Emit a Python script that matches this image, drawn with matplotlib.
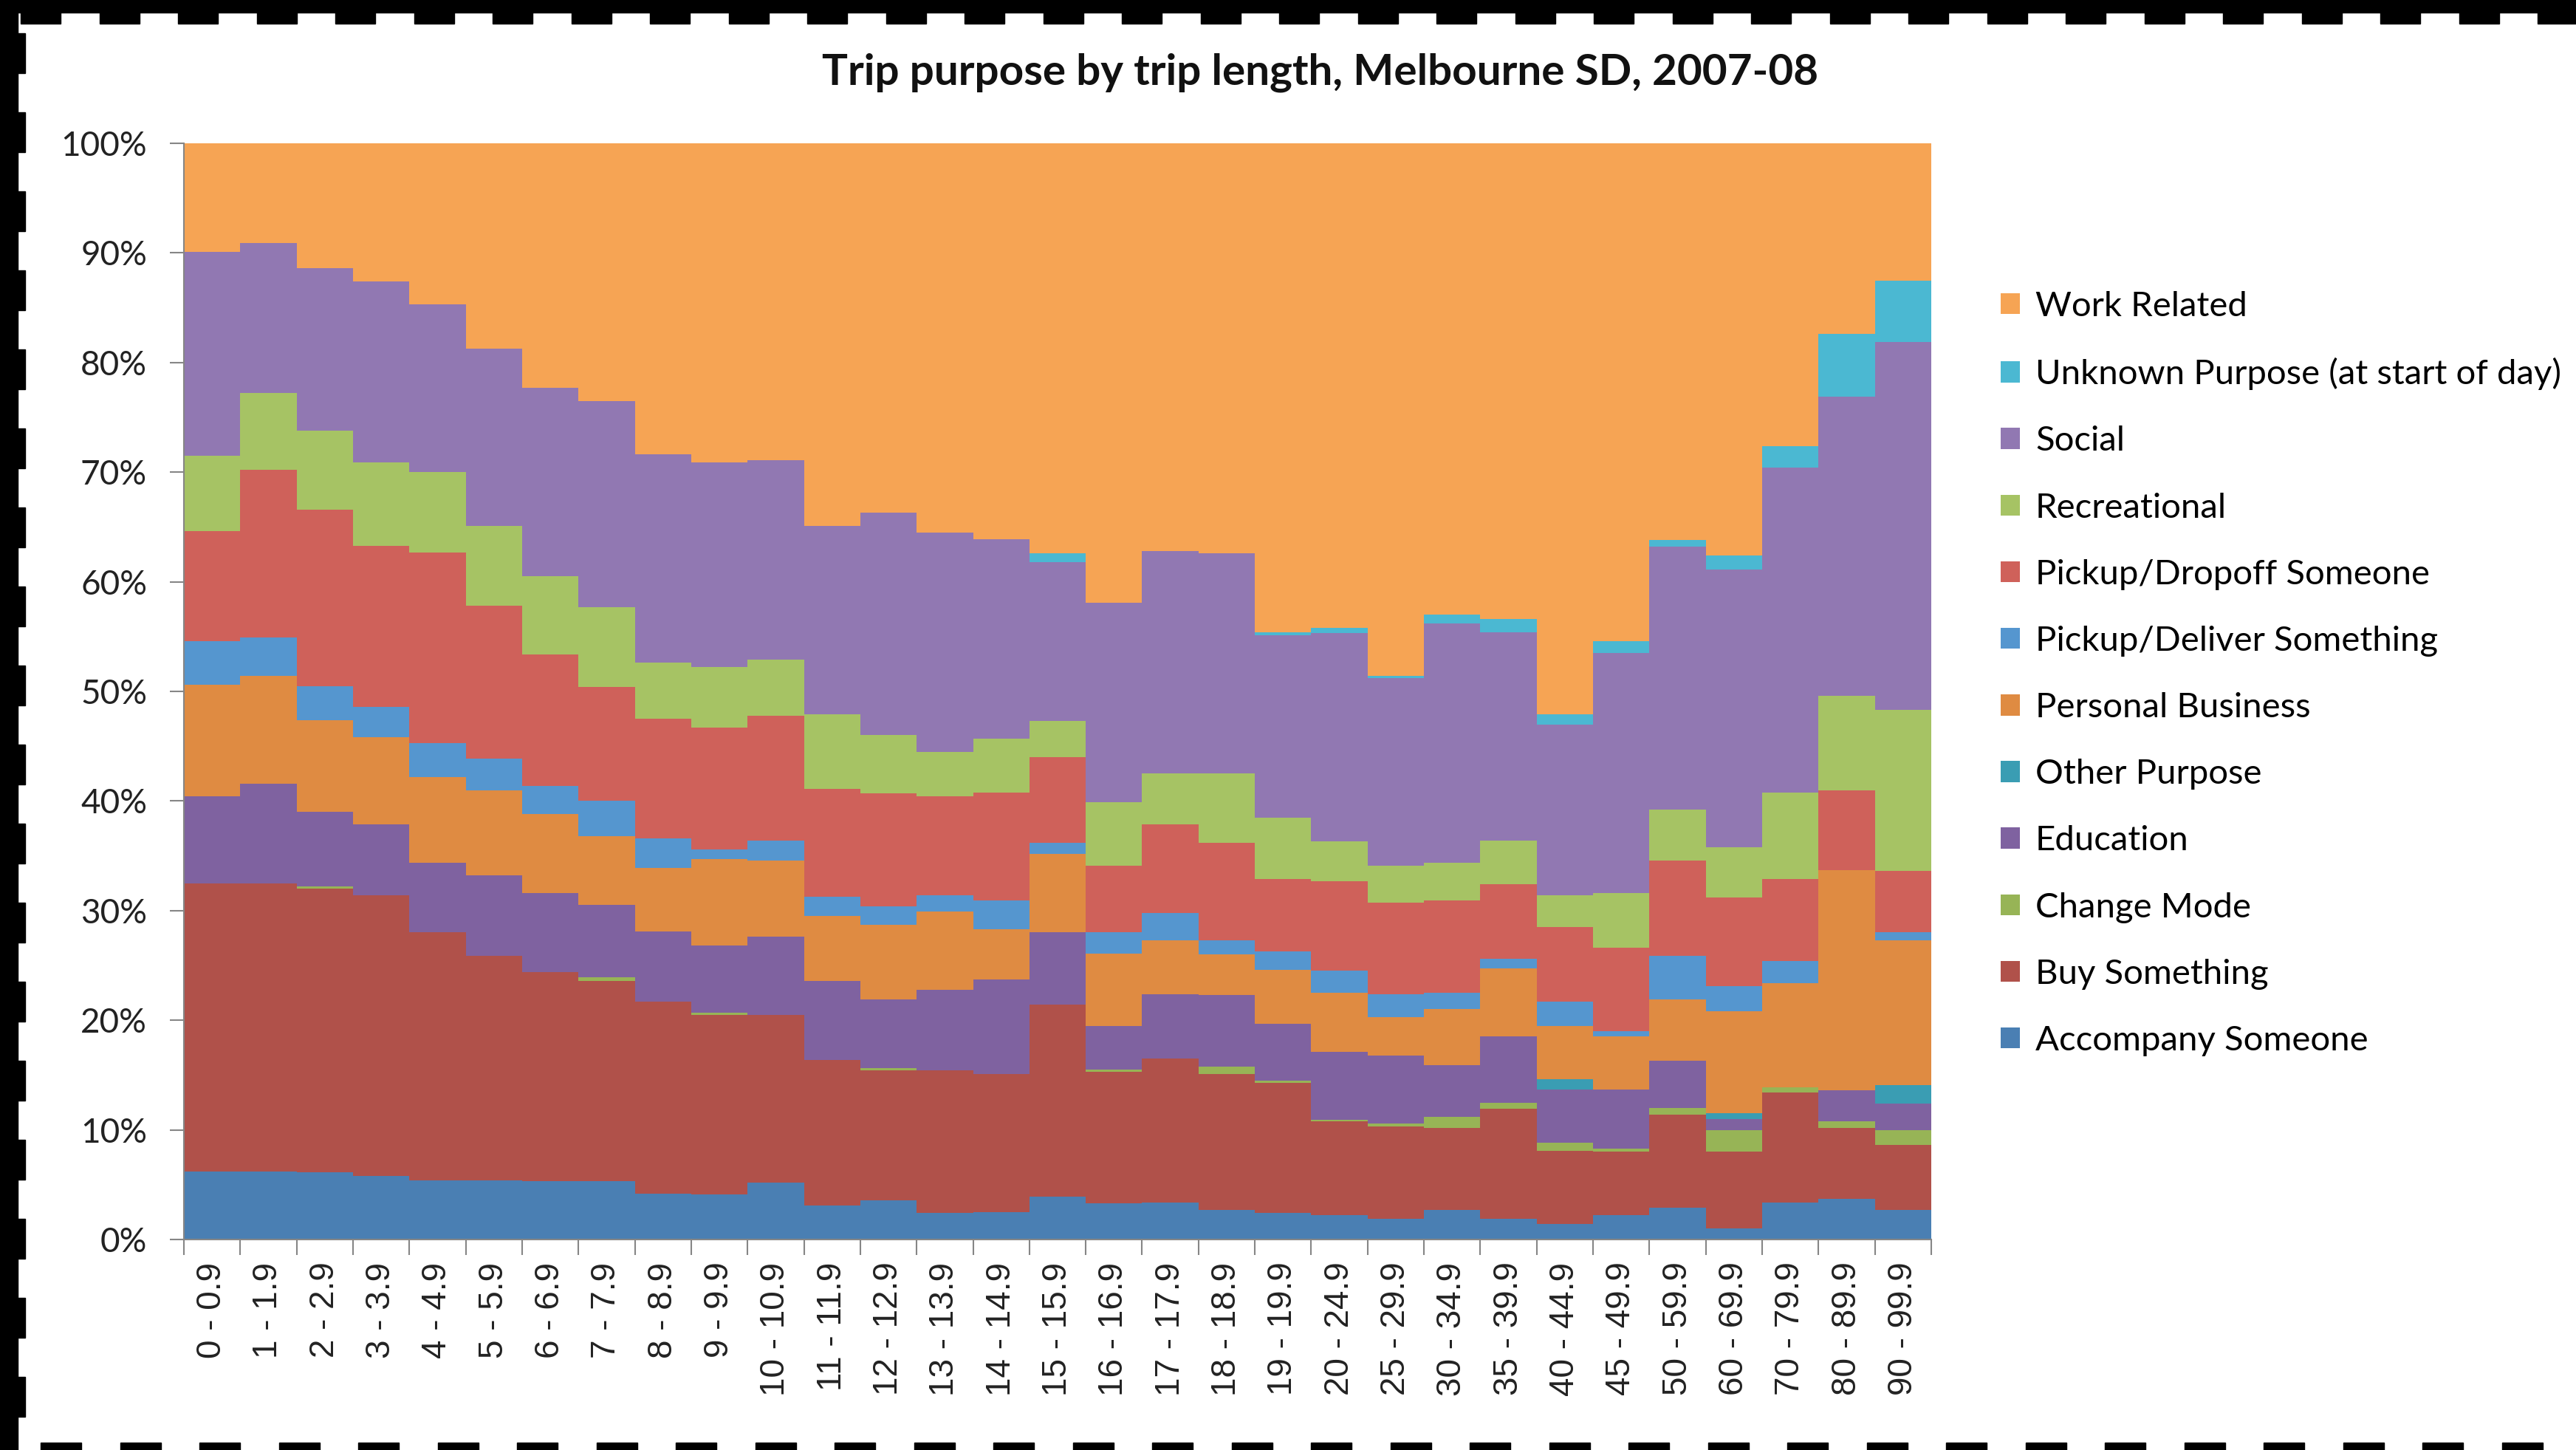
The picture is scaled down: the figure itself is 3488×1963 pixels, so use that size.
import numpy as np
import matplotlib.pyplot as plt
from matplotlib.patches import Patch, Rectangle

# trip length bands (km)
categories = ['0 - 0.9', '1 - 1.9', '2 - 2.9', '3 - 3.9', '4 - 4.9', '5 - 5.9', '6 - 6.9',
              '7 - 7.9', '8 - 8.9', '9 - 9.9', '10 - 10.9', '11 - 11.9', '12 - 12.9',
              '13 - 13.9', '14 - 14.9', '15 - 15.9', '16 - 16.9', '17 - 17.9', '18 - 18.9',
              '19 - 19.9', '20 - 24.9', '25 - 29.9', '30 - 34.9', '35 - 39.9', '40 - 44.9',
              '45 - 49.9', '50 - 59.9', '60 - 69.9', '70 - 79.9', '80 - 89.9', '90 - 99.9']

# share of trips (%), bottom layer first
accompany = [6.2, 6.2, 6.1, 5.8, 5.4, 5.4, 5.3, 5.3, 4.2, 4.1, 5.2, 3.1, 3.6, 2.4, 2.5, 3.9,
             3.3, 3.4, 2.7, 2.4, 2.2, 1.9, 2.7, 1.9, 1.4, 2.2, 2.9, 1.0, 3.4, 3.7, 2.7]
buy = [26.3, 26.3, 25.9, 25.6, 22.6, 20.5, 19.1, 18.3, 17.5, 16.4, 15.3, 13.3, 11.8, 13.0,
       12.6, 17.5, 12.0, 13.1, 12.4, 11.9, 8.6, 8.4, 7.5, 10.0, 6.7, 5.8, 8.5, 7.0, 10.0, 6.5, 5.9]
change_mode = [0, 0, 0.2, 0, 0, 0, 0, 0.3, 0, 0.2, 0, 0, 0.2, 0, 0, 0, 0.2, 0, 0.7, 0.2,
               0.1, 0.3, 1.0, 0.6, 0.7, 0.3, 0.6, 2.0, 0.5, 0.6, 1.4]
education = [7.9, 9.1, 6.8, 6.5, 6.4, 7.3, 7.2, 6.6, 6.4, 6.1, 7.1, 7.2, 6.3, 7.4, 8.6, 6.6,
             4.0, 5.9, 6.5, 5.2, 6.2, 6.2, 4.7, 6.0, 4.9, 5.4, 4.3, 1.0, 0, 2.8, 2.4]
other = [0, 0, 0, 0, 0, 0, 0, 0, 0, 0, 0, 0, 0, 0, 0, 0, 0, 0, 0, 0, 0, 0, 0, 0, 0.9, 0, 0,
         0.5, 0, 0, 1.7]
personal = [10.2, 9.8, 8.4, 7.9, 7.8, 7.8, 7.2, 6.3, 5.8, 7.9, 7.0, 5.9, 6.8, 7.1, 4.6, 7.2,
            6.6, 4.9, 3.7, 4.9, 5.4, 3.5, 5.1, 6.2, 4.9, 4.8, 5.6, 9.3, 9.5, 20.1, 13.2]
deliver = [4.0, 3.5, 3.1, 2.8, 3.1, 2.9, 2.6, 3.2, 2.7, 0.9, 1.8, 1.8, 1.7, 1.5, 2.6, 1.0,
           1.9, 2.5, 1.3, 1.7, 2.0, 2.1, 1.5, 0.9, 2.2, 0.5, 4.0, 2.3, 2.0, 0, 0.7]
dropoff = [10.0, 15.3, 16.1, 14.7, 17.4, 13.9, 12.0, 10.4, 10.9, 11.1, 11.4, 9.8, 10.3, 9.0,
           9.9, 7.8, 6.1, 8.1, 8.9, 6.6, 8.2, 8.3, 8.4, 6.8, 6.8, 7.6, 8.7, 8.1, 7.5, 7.3, 5.6]
recreational = [6.9, 7.0, 7.2, 7.6, 7.3, 7.3, 7.1, 7.3, 5.1, 5.5, 5.1, 6.8, 5.3, 4.1, 4.9, 3.3,
                5.8, 4.6, 6.3, 5.6, 3.6, 3.4, 3.5, 4.0, 2.9, 5.0, 4.6, 4.6, 7.9, 8.6, 14.7]
social = [18.6, 13.7, 14.8, 16.5, 15.3, 16.2, 17.2, 18.8, 19.0, 18.7, 18.2, 17.2, 20.3, 20.0,
          18.2, 14.5, 18.2, 20.3, 20.1, 16.6, 19.0, 17.1, 21.8, 19.0, 15.6, 21.9, 24.0, 25.3,
          29.6, 27.3, 33.6]
unknown = [0, 0, 0, 0, 0, 0, 0, 0, 0, 0, 0, 0, 0, 0, 0, 0.8, 0, 0, 0, 0.3, 0.5, 0.2, 0.8,
           1.2, 0.9, 1.1, 0.6, 1.3, 2.0, 5.7, 5.6]
work = [9.9, 9.1, 11.4, 12.6, 14.7, 18.7, 22.3, 23.5, 28.4, 29.1, 28.9, 34.9, 33.7, 35.5,
        36.1, 37.4, 41.9, 37.2, 37.4, 44.6, 44.2, 48.6, 43.0, 43.4, 52.1, 45.4, 36.2, 37.6,
        27.6, 17.4, 12.5]

series = [
    ('Accompany Someone', accompany, '#4a7fb3'),
    ('Buy Something', buy, '#b0514a'),
    ('Change Mode', change_mode, '#97b456'),
    ('Education', education, '#7f62a0'),
    ('Other Purpose', other, '#3a9db3'),
    ('Personal Business', personal, '#df8b42'),
    ('Pickup/Deliver Something', deliver, '#5596cf'),
    ('Pickup/Dropoff Someone', dropoff, '#cf615a'),
    ('Recreational', recreational, '#a6c364'),
    ('Social', social, '#9178b2'),
    ('Unknown Purpose (at start of day)', unknown, '#4bb8d2'),
    ('Work Related', work, '#f6a454'),
]

W, H = 3488, 1963
fig = plt.figure(figsize=(W / 100, H / 100), dpi=100)
fig.patch.set_facecolor('white')

ax = fig.add_axes([249 / W, 1 - 1678 / H, (2615 - 249) / W, (1678 - 194) / H])

vals = np.array([s[1] for s in series], dtype=float)
vals = vals / vals.sum(axis=0) * 100
tops = np.cumsum(vals, axis=0)
x = np.arange(len(categories) + 1)

# draw from the top layer down so there are no seams
for i in range(len(series) - 1, -1, -1):
    y = np.append(tops[i], tops[i][-1])
    ax.fill_between(x, 0, y, step='post', color=series[i][2], linewidth=0)

ax.set_xlim(0, len(categories))
ax.set_ylim(0, 100)

ax.set_xticks(x)
ax.set_xticklabels([])
ax.set_xticks(np.arange(len(categories)) + 0.5, minor=True)
ax.set_xticklabels(categories, minor=True, rotation=90, fontsize=33,
                   family='Liberation Sans', color='#222222')
ax.tick_params(axis='x', which='major', length=15, width=1.5, color='#868686')
ax.tick_params(axis='x', which='minor', length=0, pad=22)

ax.set_yticks(np.arange(0, 101, 10))
ax.set_yticklabels([f'{v}%' for v in range(0, 101, 10)], fontsize=33,
                   family='Lato', color='#222222')
ax.tick_params(axis='y', length=14, width=1.5, color='#868686', pad=22)

for side in ['top', 'right']:
    ax.spines[side].set_visible(False)
for side in ['left', 'bottom']:
    ax.spines[side].set_color('#868686')
    ax.spines[side].set_linewidth(1.5)

fig.text(1788 / W, 1 - 98 / H, 'Trip purpose by trip length, Melbourne SD, 2007-08',
         ha='center', va='center', fontsize=42, fontweight='bold', family='Lato',
         color='#111111')

handles = [Patch(facecolor=c, edgecolor='none', label=n) for n, _, c in series][::-1]
fig.legend(handles=handles, loc='upper left', bbox_to_anchor=(2690 / W, 1 - 375 / H),
           frameon=False, prop={'family': 'Lato', 'size': 34}, handlelength=0.55,
           handleheight=0.55, handletextpad=0.45, labelspacing=1.02, borderaxespad=0)

# black perforated frame round the picture
frame = fig.add_axes([0, 0, 1, 1], zorder=10)
frame.set_xlim(0, W)
frame.set_ylim(H, 0)
frame.axis('off')
frame.patch.set_alpha(0)
frame.add_patch(Rectangle((0, 0), W, 17, color='black'))
for x0 in np.arange(28, W, 106.5):
    frame.add_patch(Rectangle((x0, 17), 54, 15, color='black'))
frame.add_patch(Rectangle((0, 0), 24, H, color='black'))
for y0 in np.arange(45, H, 107):
    frame.add_patch(Rectangle((24, y0), 10, 54, color='black'))
for x0 in np.arange(55, W, 107.5):
    frame.add_patch(Rectangle((x0, 1953), 55, 10, color='black'))

fig.savefig('out.png', dpi=100)
